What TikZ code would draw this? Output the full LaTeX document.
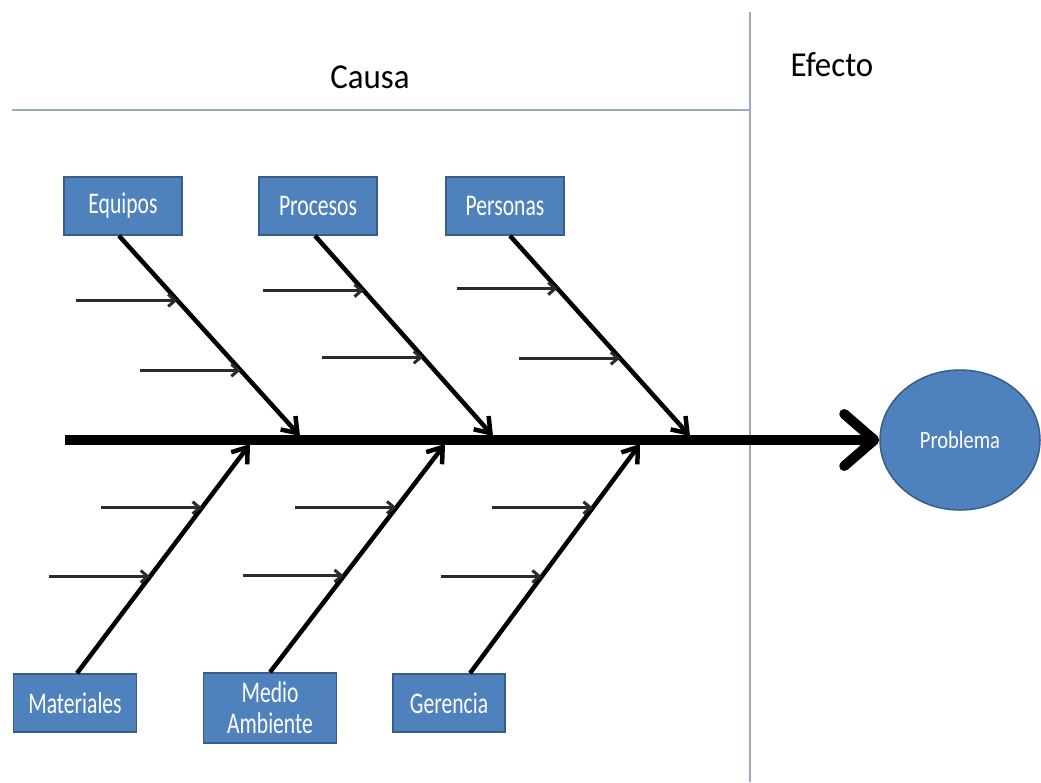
\documentclass[tikz,border=0pt]{standalone}
\usepackage{fontspec}
\setmainfont{Carlito}
\newfontfamily\labelfont[FakeStretch=0.72]{Carlito}
\newfontfamily\headfont[FakeStretch=0.94]{Carlito}
\newfontfamily\effectfont[FakeStretch=0.82]{Carlito}
\usetikzlibrary{arrows.meta,calc,shapes.geometric}

\definecolor{boxfill}{HTML}{4F81BD}
\definecolor{boxline}{HTML}{385D8A}
\definecolor{rulecol}{HTML}{9AABC0}
\definecolor{twigcol}{HTML}{2B2B2B}

\begin{document}
\begin{tikzpicture}[x=1pt,y=-1pt,
  catbox/.style={rectangle, fill=boxfill, draw=boxline, line width=1.5pt,
    text=white, minimum width=118pt, minimum height=58pt, inner sep=0pt,
    align=center, font=\labelfont\fontsize{30}{31}\selectfont},
  effect/.style={ellipse, fill=boxfill, draw=boxline, line width=1.5pt,
    text=white, minimum width=160pt, minimum height=140pt, inner sep=0pt,
    font=\effectfont\fontsize{25}{25}\selectfont},
  heading/.style={anchor=base, text=black, font=\headfont\fontsize{35}{35}\selectfont},
  divider/.style={draw=rulecol, line width=1.5pt},
  spine/.style={line width=10pt, -{Straight Barb[round,length=30pt,width=52pt]}},
  bone/.style={line width=4.5pt, -{Straight Barb[length=14pt,width=20pt]}},
  twigarrow/.style={line width=3pt, draw=twigcol, -{Straight Barb[length=7pt,width=12pt]}}
]
\useasboundingbox (0,0) rectangle (1041,782);

% frame lines separating cause and effect
\coordinate (hl) at (12,110);
\coordinate (hr) at (750,110);
\coordinate (vt) at (750,12);
\coordinate (vb) at (750,782);
\draw[divider] (hl) -- (hr);
\draw[divider] (vt) -- (vb);

% headings
\node[heading] (causa) at (370,88) {Causa};
\node[heading] (efecto) at (832,76) {Efecto};

% effect
\node[effect] (pb) at (960,440) {Problema};

% category boxes
\node[catbox] (eq)  at (123,206) {Equipos};
\node[catbox] (pr)  at (318,206) {Procesos};
\node[catbox] (pe)  at (505,206) {Personas};
\node[catbox, minimum width=123pt] (ma) at (75,703) {Materiales};
\node[catbox, minimum width=133pt, minimum height=70pt] (me) at (270,708) {Medio\\Ambiente};
\node[catbox, minimum width=112pt] (ge) at (449,703) {Gerencia};

% main spine
\coordinate (tail) at (65,440);
\draw[spine] (tail) -- (pb.west);

% bone end points on the spine
\coordinate (eqend) at (300,436);
\coordinate (prend) at (493,436);
\coordinate (peend) at (690,436);
\coordinate (maend) at (250,444);
\coordinate (meend) at (445,444);
\coordinate (geend) at (640,444);

% upper bones
\draw[bone] ([xshift=-4pt]eq.south) -- coordinate[pos=0.323] (eqa) coordinate[pos=0.672] (eqb) (eqend);
\draw[bone] ([xshift=-3pt]pr.south) -- coordinate[pos=0.274] (pra) coordinate[pos=0.607] (prb) (prend);
\draw[bone] ([xshift=5pt]pe.south) -- coordinate[pos=0.264] (pea) coordinate[pos=0.612] (peb) (peend);

% lower bones
\draw[bone] ([xshift=2pt]ma.north) -- coordinate[pos=0.722] (maa) coordinate[pos=0.422] (mab) (maend);
\draw[bone] (me.north) -- coordinate[pos=0.722] (mea) coordinate[pos=0.422] (meb) (meend);
\draw[bone] ([xshift=21pt]ge.north) -- coordinate[pos=0.722] (gea) coordinate[pos=0.422] (geb) (geend);

% sub-cause arrows
\foreach \c in {eqa,eqb,pra,prb,pea,peb,maa,mab,mea,meb,gea,geb}{
  \coordinate (\c0) at ($(\c)+(-101,0)$);
  \draw[twigarrow] (\c0) -- (\c);
}
\end{tikzpicture}
\end{document}
